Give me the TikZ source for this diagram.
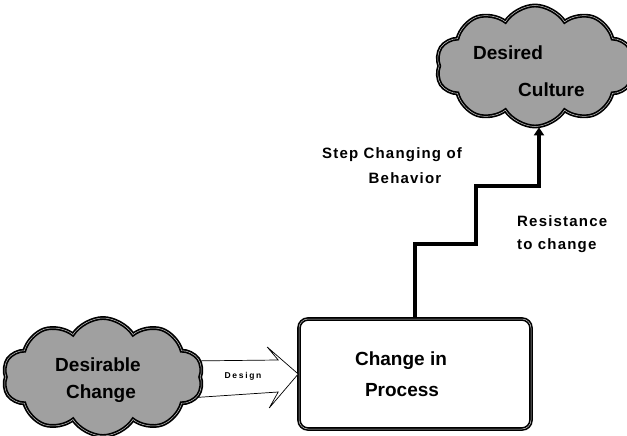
\documentclass[tikz,border=0pt]{standalone}
\usepackage{fontspec}
\setmainfont{Liberation Sans}
\newfontfamily\widefont[LetterSpace=8]{Liberation Sans}
\newfontfamily\tinywide[LetterSpace=20]{Liberation Sans}
\usetikzlibrary{shapes.symbols,arrows.meta,calc}
\definecolor{cloudgray}{RGB}{160,160,160}

\tikzset{
  puff/.style={cloud, cloud puffs=10, cloud puff arc=115, aspect=1.6,
    draw=black, fill=cloudgray, line width=1.7pt, double=gray!40,
    double distance=0.5pt, inner sep=0pt},
  procbox/.style={draw=black, fill=white, line width=1.6pt, double=gray!40,
    double distance=0.5pt, rounded corners=9pt, inner sep=0pt},
  bigtext/.style={font=\bfseries\fontsize{19}{22}\selectfont, inner sep=0pt},
  midtext/.style={font=\bfseries\widefont\fontsize{15}{23}\selectfont, inner sep=0pt},
  smalltext/.style={font=\bfseries\tinywide\fontsize{8.5}{10}\selectfont, inner sep=0pt},
  stair/.style={line width=3.6pt, line join=miter,
    -{Triangle[length=8pt,width=10pt]}},
  blockarrow/.style={draw=black, fill=white, line width=0.7pt, line join=miter},
}

\begin{document}
\begin{tikzpicture}[x=1pt, y=-1pt]
  \useasboundingbox (0,0) rectangle (627,436);

  % process box
  \node[procbox, minimum width=232pt, minimum height=110pt] (proc) at (415,374) {};
  \node[bigtext] (proctop) at (401,361) {Change in};
  \node[bigtext] (procbot) at (402,390) {Process};

  % hollow "Design" arrow, tucked under the left cloud
  \draw[blockarrow] ($(proc.west)+(-110,-13)$) -- ($(proc.west)+(-20,-14)$)
     -- ($(proc.west)+(-31,-27)$) -- (proc.west) -- ($(proc.west)+(-29,34)$)
     -- ($(proc.west)+(-20,18)$) -- ($(proc.west)+(-110,24)$);
  \node[smalltext] (design) at (243,376) {Design};

  % clouds
  \node[puff, minimum width=198pt, minimum height=121pt] (culture) at (535,66) {};
  \node[bigtext, anchor=west] (cultA) at (473,53) {Desired};
  \node[bigtext, anchor=west] (cultB) at (518,90) {Culture};

  \node[puff, minimum width=200pt, minimum height=118pt] (desire) at (103,377) {};
  \node[bigtext] (desA) at (98,365) {Desirable};
  \node[bigtext] (desB) at (101,394) {Change};

  % staircase of behaviour change
  \draw[stair] (proc.north) |- (476,244) |- (539,186) -- (539,186 |- culture.south);

  % labels
  \node[midtext] (stepA) at (392,155) {Step Changing of};
  \node[midtext] (stepB) at (405,178) {Behavior};
  \node[midtext, anchor=west, align=left] (resist) at (517,234) {Resistance\\to change};
\end{tikzpicture}
\end{document}
